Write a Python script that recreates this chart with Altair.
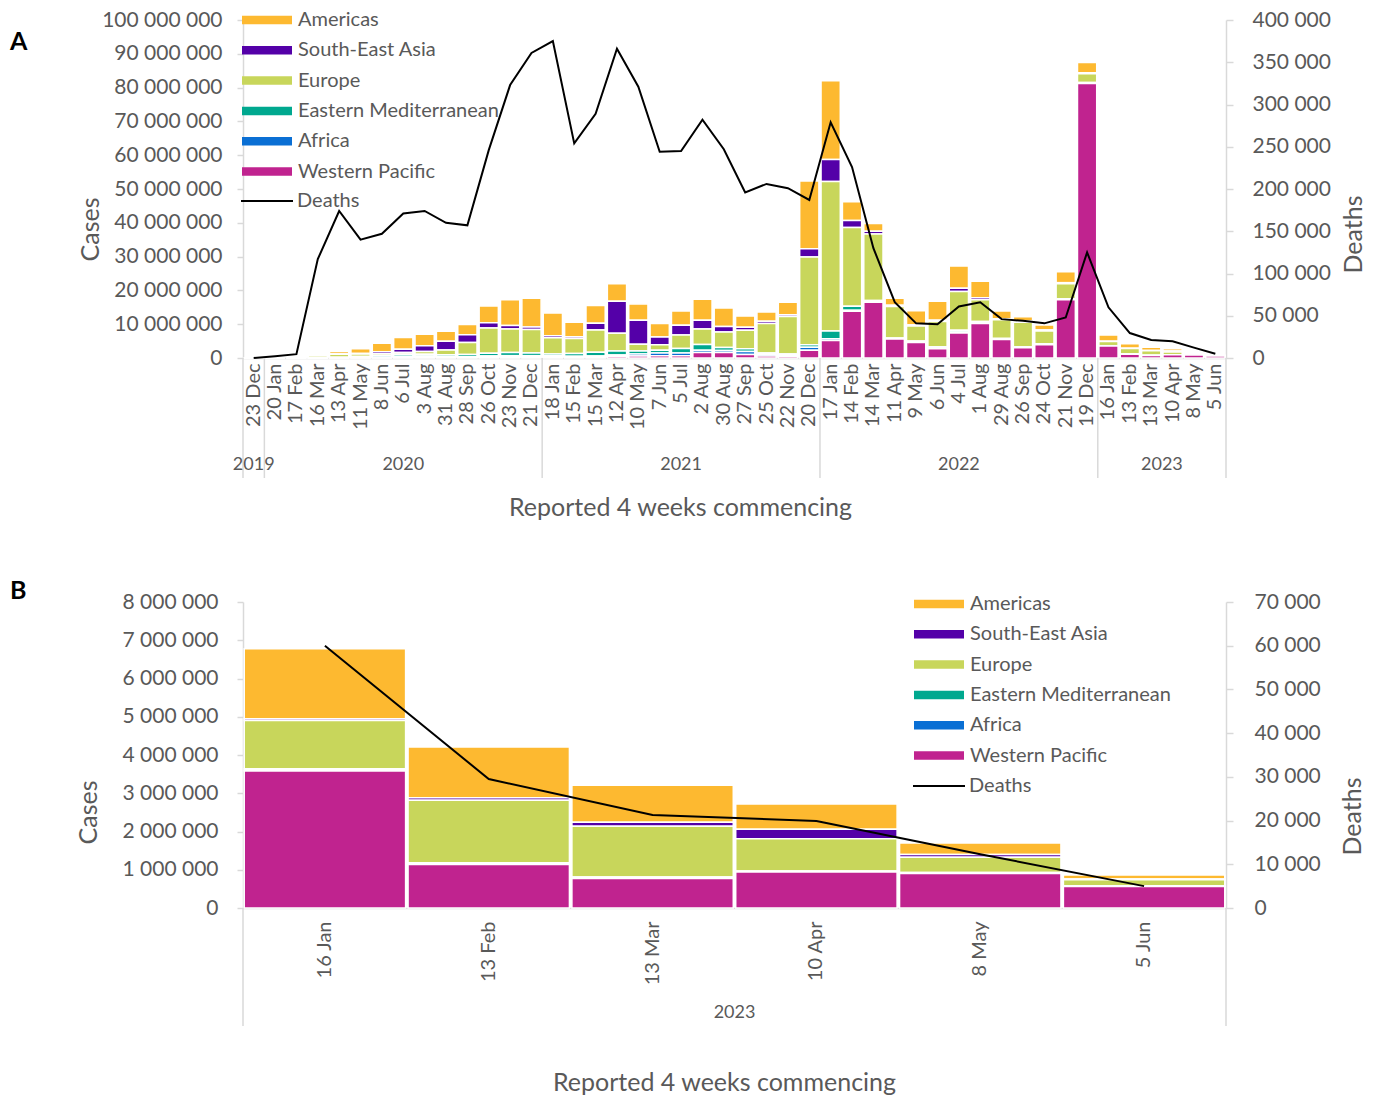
import altair as alt
import pandas as pd

FONT = "Lato"
TXT = "#595959"
AXC = "#d9d9d9"

periods = ["23 Dec", "20 Jan", "17 Feb", "16 Mar", "13 Apr", "11 May", "8 Jun", "6 Jul", "3 Aug",
           "31 Aug", "28 Sep", "26 Oct", "23 Nov", "21 Dec", "18 Jan", "15 Feb", "15 Mar", "12 Apr",
           "10 May", "7 Jun", "5 Jul", "2 Aug", "30 Aug", "27 Sep", "25 Oct", "22 Nov", "20 Dec",
           "17 Jan", "14 Feb", "14 Mar", "11 Apr", "9 May", "6 Jun", "4 Jul", "1 Aug", "29 Aug",
           "26 Sep", "24 Oct", "21 Nov", "19 Dec", "16 Jan", "13 Feb", "13 Mar", "10 Apr", "8 May",
           "5 Jun"]
years = [2019] + [2020] * 13 + [2021] * 13 + [2022] * 13 + [2023] * 6

regions = ["Americas", "South-East Asia", "Europe", "Eastern Mediterranean", "Africa", "Western Pacific"]
colors = ["#fdb930", "#5400a8", "#c8d65b", "#00a88f", "#0a6fd4", "#c0238f"]

# cases, millions
americas = [0, 0, 0, 0.15, 0.75, 1.4, 2.5, 3.5, 3.4, 3.0, 3.0, 5.0, 7.6, 8.5, 6.7, 4.3, 5.2, 5.2,
            4.8, 4.0, 4.2, 6.2, 5.5, 3.3, 2.7, 3.7, 20.1, 23.3, 5.5, 2.3, 2.1, 4.2, 5.6, 6.6, 4.9,
            2.3, 1.3, 1.5, 3.2, 3.0, 1.83, 1.33, 0.97, 0.66, 0.3, 0.1]
sea = [0, 0, 0, 0.01, 0.07, 0.2, 0.6, 1.0, 1.7, 2.6, 2.3, 1.5, 1.0, 0.8, 0.6, 0.5, 2.0, 9.5,
       7.1, 2.3, 2.9, 2.6, 1.6, 0.9, 0.7, 0.5, 2.4, 6.5, 2.1, 0.8, 0.4, 0.3, 0.4, 0.9, 0.6,
       0.3, 0.3, 0.3, 0.3, 0.3, 0.05, 0.06, 0.1, 0.25, 0.07, 0.02]
europe = [0, 0, 0.001, 0.5, 0.9, 0.7, 0.5, 0.5, 0.8, 1.4, 3.6, 7.5, 7.0, 6.9, 4.8, 4.5, 6.6, 5.2,
          2.0, 1.6, 4.0, 4.6, 4.6, 5.5, 8.7, 11.1, 26.0, 44.2, 23.3, 19.7, 9.3, 4.5, 7.5, 11.5,
          6.4, 5.5, 7.3, 3.8, 4.5, 2.6, 1.26, 1.64, 1.33, 0.84, 0.4, 0.16]
emr = [0, 0, 0.001, 0.05, 0.15, 0.3, 0.5, 0.6, 0.5, 0.5, 0.6, 0.8, 0.9, 0.8, 0.5, 0.8, 1.1, 1.2,
       0.9, 0.8, 1.3, 1.7, 0.9, 0.8, 0.4, 0.4, 0.7, 2.3, 1.2, 0.3, 0.2, 0.2, 0.3, 0.5, 0.4,
       0.2, 0.2, 0.2, 0.2, 0.2, 0.04, 0.03, 0.03, 0.02, 0.02, 0.01]
africa = [0, 0, 0, 0.001, 0.03, 0.1, 0.2, 0.4, 0.4, 0.25, 0.2, 0.3, 0.4, 0.4, 0.4, 0.3, 0.3, 0.4,
          0.6, 0.8, 0.8, 0.7, 0.6, 0.9, 0.5, 0.3, 0.9, 0.5, 0.3, 0.2, 0.1, 0.2, 0.3, 0.3, 0.2,
          0.1, 0.1, 0.1, 0.1, 0.1, 0.02, 0.01, 0.01, 0.01, 0.01, 0.01]
wpr = [0.001, 0.01, 0.07, 0.02, 0.05, 0.05, 0.05, 0.1, 0.2, 0.2, 0.2, 0.3, 0.3, 0.3, 0.3, 0.2,
       0.3, 0.5, 0.6, 0.7, 0.7, 1.6, 1.6, 1.0, 0.6, 0.5, 2.3, 5.2, 13.8, 16.5, 5.6, 4.6, 2.7,
       7.4, 10.2, 5.5, 3.0, 3.9, 17.2, 81.2, 3.58, 1.14, 0.77, 0.94, 0.9, 0.56]
series = [americas, sea, europe, emr, africa, wpr]

deaths = [0, 2000, 4500, 117000, 174000, 140000, 147000, 171000, 174000, 160000, 157000, 246000,
          323000, 361000, 375000, 254000, 289000, 366000, 321000, 244000, 245000, 282000, 247000,
          196000, 206000, 201000, 187000, 279000, 226000, 130000, 66000, 41000, 40000, 61000,
          66000, 46000, 44000, 41000, 48000, 125000, 60000, 29500, 21300, 19900, 12300, 5000]

cases_ticks_a = [0, 10000000, 20000000, 30000000, 40000000, 50000000, 60000000, 70000000,
                 80000000, 90000000, 100000000]
deaths_ticks_a = [0, 50000, 100000, 150000, 200000, 250000, 300000, 350000, 400000]
cases_ticks_b = [0, 1000000, 2000000, 3000000, 4000000, 5000000, 6000000, 7000000, 8000000]
deaths_ticks_b = [0, 10000, 20000, 30000, 40000, 50000, 60000, 70000]

NUM = "replace(format(datum.value, ','), regexp(',', 'g'), ' ')"
BAR_SYMBOL = "M-5,-0.85L5,-0.85L5,0.85L-5,0.85Z"
W = 983


def panel(sl, letter, c):
    per = periods[sl]
    yrs = years[sl]
    n = len(per)
    rows = []
    for i, p in enumerate(per):
        for r, vals in zip(regions, series):
            rows.append({"period": p, "region": r, "cases": vals[sl][i] * 1e6,
                         "stack": 5 - regions.index(r)})
    bars_df = pd.DataFrame(rows)
    line_df = pd.DataFrame({"period": per, "deaths": deaths[sl], "series": ["Deaths"] * n})

    ylab, ypos, bpos = [], [], []
    start = 0
    for k in range(1, n + 1):
        if k == n or yrs[k] != yrs[k - 1]:
            ylab.append(str(yrs[k - 1]))
            ypos.append((start + k) / 2)
            bpos.append(start)
            start = k
    bpos.append(n)
    yl_df = pd.DataFrame({"pos": ypos, "label": ylab})
    yb_df = pd.DataFrame({"pos": bpos})

    xs = alt.Scale(paddingInner=c["pi"], paddingOuter=c["pi"] / 2)
    H = c["h"]

    bars = alt.Chart(bars_df).mark_bar(stroke="white", strokeWidth=1.5).encode(
        x=alt.X("period:N", sort=per, scale=xs,
                axis=alt.Axis(labelAngle=-90, labelFontSize=c["xfs"], labelPadding=c["xlp"],
                              ticks=False, tickSize=0, domainColor=AXC, domainWidth=1.5,
                              labelOverlap=False, labelLimit=300,
                              title="Reported 4 weeks commencing", titleFontSize=25,
                              titleX=c["tx"], titleY=c["ty"], titleAlign="center",
                              titleBaseline="middle", titleAngle=0)),
        y=alt.Y("cases:Q", stack="zero",
                scale=alt.Scale(domain=[0, c["cmax"]], nice=False),
                axis=alt.Axis(values=c["cticks"], labelExpr=NUM, labelFontSize=21,
                              labelPadding=c["llp"], tickSize=6, tickColor=AXC, tickWidth=1.5,
                              domainColor=AXC, domainWidth=1.5, title="Cases", titleFontSize=25,
                              titleAngle=-90, titleX=c["ctx"], titleY=c["cty"],
                              titleAlign="center", titleBaseline="middle")),
        fill=alt.Fill("region:N", scale=alt.Scale(domain=regions, range=colors), title=None,
                      legend=alt.Legend(orient="none", legendX=c["lx"] + 15, legendY=c["ly"],
                                        symbolType=BAR_SYMBOL, symbolSize=100,
                                        symbolStrokeWidth=0, labelFontSize=20,
                                        labelOffset=21, labelLimit=400, rowPadding=c["rp"],
                                        padding=0)),
        order=alt.Order("stack:Q", sort="ascending"),
    )

    line = alt.Chart(line_df).mark_line(strokeWidth=2).encode(
        x=alt.X("period:N", sort=per),
        y=alt.Y("deaths:Q", scale=alt.Scale(domain=[0, c["dmax"]], nice=False),
                axis=alt.Axis(orient="right", values=c["dticks"], labelExpr=NUM,
                              labelFontSize=21, labelPadding=c["rlp"], tickSize=7,
                              tickColor=AXC, tickWidth=1.5, domainColor=AXC, domainWidth=1.5,
                              title="Deaths", titleFontSize=25, titleAngle=-90,
                              titleX=c["dtx"], titleY=c["dty"], titleAlign="center",
                              titleBaseline="middle")),
        stroke=alt.Stroke("series:N", scale=alt.Scale(domain=["Deaths"], range=["#000000"]),
                          title=None,
                          legend=alt.Legend(orient="none", legendX=c["lx"] - 2, legendY=c["dly"],
                                            symbolType="stroke", symbolSize=2704,
                                            symbolStrokeWidth=2, labelFontSize=20,
                                            labelOffset=3, padding=0)),
    )

    inner = alt.layer(bars, line).resolve_scale(y="independent")

    qx = alt.Scale(domain=[0, n], nice=False, zero=True)
    yrule = alt.Chart(yb_df).mark_rule(color=AXC, strokeWidth=1.5).encode(
        x=alt.X("pos:Q", scale=qx, axis=None),
        y=alt.value(H), y2=alt.value(c["rule_end"]))
    ytext = alt.Chart(yl_df).mark_text(font=FONT, fontSize=c["yfs"], color=TXT,
                                       baseline="middle").encode(
        x=alt.X("pos:Q", scale=qx, axis=None),
        y=alt.value(c["yly"]), text="label:N")
    lab = alt.Chart(pd.DataFrame({"t": [letter]})).mark_text(
        font=FONT, fontSize=25, fontWeight="bold", color="black", align="left",
        baseline="middle").encode(x=alt.value(-233), y=alt.value(c["lety"]), text="t:N")

    return alt.layer(inner, yrule, ytext, lab).resolve_scale(x="independent").properties(
        width=W, height=H)


cfg_a = dict(pi=0.1, h=338, xfs=20, xlp=5, tx=437, ty=149, cmax=100000000, cticks=cases_ticks_a,
             llp=15, ctx=-153, cty=209, dmax=400000, dticks=deaths_ticks_a, rlp=19, dtx=127,
             dty=214, lx=-1, ly=-10, dly=154, rp=10.3, rule_end=458, yfs=18, yly=445, lety=22)
cfg_b = dict(pi=0.015, h=306, xfs=20, xlp=13, tx=481, ty=174, cmax=8000000, cticks=cases_ticks_b,
             llp=19, ctx=-155, cty=210, dmax=70000, dticks=deaths_ticks_b, rlp=21, dtx=126,
             dty=214, lx=671, ly=-8, dly=157, rp=10.3, rule_end=424, yfs=18, yly=411, lety=-11)

pa = panel(slice(0, 46), "A", cfg_a)
pb = panel(slice(40, 46), "B", cfg_b)

chart = alt.vconcat(pa, pb, spacing=59).resolve_scale(
    fill="independent", stroke="independent").properties(
    padding={"left": 2, "top": 1, "right": 2, "bottom": 2}
).configure_axis(
    labelFont=FONT, titleFont=FONT, labelColor=TXT, titleColor=TXT, titleFontWeight="normal",
    grid=False
).configure_legend(labelFont=FONT, labelColor=TXT).configure_view(stroke=None)

chart.save("out.html", embed_options={"renderer": "svg", "actions": False})
